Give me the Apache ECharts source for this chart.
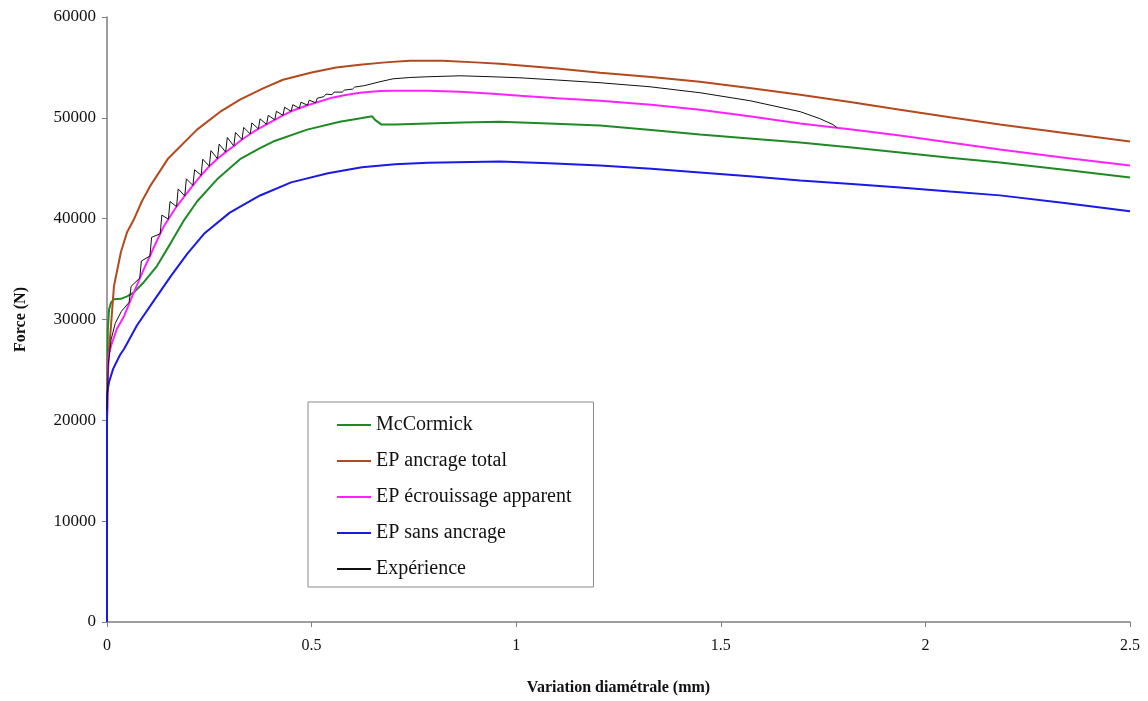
<!DOCTYPE html>
<html>
<head>
<meta charset="utf-8">
<script src="https://cdn.jsdelivr.net/npm/echarts@6/dist/echarts.min.js"></script>
<style>
html,body{margin:0;padding:0;background:#fff;}
#chart{width:1148px;height:701px;}
</style>
</head>
<body>
<div id="chart"></div>
<script>
const seriesNames = ["McCormick", "EP ancrage total", "EP écrouissage apparent", "EP sans ancrage", "Expérience"];

const mcCormick = [[0,20000],[0.002,29000],[0.005,31000],[0.01,31700],[0.017,32000],[0.034,32050],[0.049,32300],[0.066,32700],[0.09,33700],[0.122,35300],[0.156,37600],[0.186,39700],[0.22,41700],[0.269,43900],[0.325,45900],[0.374,47000],[0.406,47650],[0.489,48830],[0.569,49620],[0.62,49950],[0.648,50150],[0.655,49800],[0.67,49350],[0.704,49330],[0.784,49430],[0.868,49530],[0.96,49600],[1.08,49450],[1.205,49230],[1.33,48800],[1.449,48340],[1.57,47950],[1.694,47550],[1.82,47050],[1.938,46560],[2.06,46050],[2.182,45570],[2.34,44850],[2.5,44090]];

const ancrageTotal = [[0,20000],[0.003,26000],[0.01,29500],[0.017,33300],[0.034,36700],[0.049,38650],[0.066,39950],[0.085,41700],[0.105,43200],[0.15,46000],[0.22,48830],[0.28,50700],[0.325,51800],[0.38,52900],[0.43,53780],[0.5,54500],[0.56,55000],[0.618,55260],[0.68,55500],[0.74,55650],[0.82,55650],[0.9,55500],[0.96,55360],[1.1,54900],[1.205,54470],[1.33,54050],[1.449,53580],[1.57,52950],[1.694,52290],[1.82,51550],[1.938,50810],[2.06,50050],[2.182,49330],[2.34,48500],[2.5,47650]];

const ecrouissage = [[0,20000],[0.003,25500],[0.005,26600],[0.01,27400],[0.024,29060],[0.042,30350],[0.055,31650],[0.066,32720],[0.08,34050],[0.09,35000],[0.105,36300],[0.115,37200],[0.13,38500],[0.139,39240],[0.15,39950],[0.17,41200],[0.19,42250],[0.21,43300],[0.23,44300],[0.25,45200],[0.27,45950],[0.29,46600],[0.31,47200],[0.33,47850],[0.35,48400],[0.37,48900],[0.39,49350],[0.41,49800],[0.43,50250],[0.45,50650],[0.47,50950],[0.49,51250],[0.51,51500],[0.55,52000],[0.58,52250],[0.618,52490],[0.667,52650],[0.699,52690],[0.782,52690],[0.863,52590],[0.943,52390],[1.009,52200],[1.1,51950],[1.205,51700],[1.33,51300],[1.449,50810],[1.57,50150],[1.694,49430],[1.82,48850],[1.938,48240],[2.06,47550],[2.182,46850],[2.34,46050],[2.5,45270]];

const sansAncrage = [[0,0],[0,22600],[0.005,23800],[0.015,25100],[0.032,26500],[0.042,27100],[0.073,29400],[0.115,31900],[0.156,34300],[0.196,36500],[0.237,38500],[0.3,40600],[0.374,42300],[0.45,43600],[0.54,44500],[0.623,45100],[0.704,45400],[0.784,45550],[0.96,45670],[1.08,45500],[1.205,45270],[1.33,44950],[1.449,44580],[1.57,44200],[1.694,43790],[1.82,43450],[1.938,43100],[2.06,42700],[2.182,42310],[2.34,41550],[2.5,40730]];

const experience = [[0,21000],[0.003,25500],[0.01,28000],[0.02,29600],[0.035,30800],[0.054,31700],
[0.055,31700],[0.059,33300],[0.08,34100],[0.084,35800],[0.105,36300],[0.109,38150],[0.13,38500],[0.134,40350],
[0.15,39950],[0.154,41700],[0.17,41200],[0.174,42950],[0.19,42250],[0.194,43950],[0.21,43300],[0.214,44850],
[0.23,44300],[0.234,45900],[0.25,45200],[0.254,46750],[0.27,45950],[0.274,47400],[0.29,46600],[0.294,48050],
[0.31,47200],[0.314,48550],[0.33,47850],[0.334,49050],[0.35,48400],[0.354,49500],[0.37,48900],[0.374,49900],
[0.39,49350],[0.394,50250],[0.41,49800],[0.414,50650],[0.43,50250],[0.434,51050],[0.45,50650],[0.454,51300],
[0.47,50950],[0.474,51550],[0.49,51250],[0.494,51750],[0.51,51500],[0.514,51950],
[0.53,52100],[0.535,52350],[0.55,52300],[0.555,52550],[0.575,52550],[0.58,52750],[0.6,52850],[0.605,53050],
[0.63,53200],[0.667,53580],[0.699,53870],[0.74,54000],[0.782,54070],[0.863,54170],[0.943,54070],[1.009,53970],
[1.1,53750],[1.205,53480],[1.327,53080],[1.449,52490],[1.571,51700],[1.694,50610],[1.742,49920],[1.774,49330],[1.784,49030]];

const colors = ["#1f8a24", "#b4491e", "#ff22ff", "#1a1ae6", "#111111"];
const widths = [2, 2, 2, 2, 1];
const dataSets = [mcCormick, ancrageTotal, ecrouissage, sansAncrage, experience];

const xTicks = {min: 0, max: 2.5, interval: 0.5};
const yTicks = {min: 0, max: 60000, interval: 10000};

const FONT = "'Liberation Serif', 'DejaVu Serif', serif";

const chart = echarts.init(document.getElementById('chart'), null, {renderer: 'canvas'});
chart.setOption({
  backgroundColor: '#ffffff',
  animation: false,
  grid: {left: 107, right: 18, top: 17, bottom: 77, containLabel: false},
  legend: {
    orient: 'vertical',
    left: 308, top: 402,
    data: seriesNames.map((n, i) => ({name: n, icon: 'rect', itemStyle: {color: colors[i]}})),
    backgroundColor: '#ffffff',
    borderColor: '#8a8a8a',
    borderWidth: 1,
    borderRadius: 0,
    padding: [13, 22, 8, 29],
    itemWidth: 34,
    itemHeight: 2,
    itemGap: 16,
    textStyle: {fontFamily: FONT, fontSize: 20, color: '#111', lineHeight: 20}
  },
  xAxis: {
    type: 'value',
    min: xTicks.min, max: xTicks.max, interval: xTicks.interval,
    name: 'Variation diamétrale (mm)',
    nameLocation: 'middle', nameGap: 58,
    nameTextStyle: {fontFamily: FONT, fontSize: 16, fontWeight: 'bold', color: '#111'},
    axisLine: {lineStyle: {color: '#7f7f7f', width: 1.5}},
    axisTick: {show: true, inside: false, length: 5, lineStyle: {color: '#7f7f7f'}},
    axisLabel: {fontFamily: FONT, fontSize: 16, color: '#111', margin: 16},
    splitLine: {show: false}
  },
  yAxis: {
    type: 'value',
    min: yTicks.min, max: yTicks.max, interval: yTicks.interval,
    name: 'Force (N)',
    nameLocation: 'middle', nameGap: 78,
    nameTextStyle: {fontFamily: FONT, fontSize: 16, fontWeight: 'bold', color: '#111'},
    axisLine: {show: true, lineStyle: {color: '#7f7f7f', width: 1.5}},
    axisTick: {show: true, inside: false, length: 5, lineStyle: {color: '#7f7f7f'}},
    axisLabel: {fontFamily: FONT, fontSize: 17, color: '#111', margin: 11, formatter: v => String(v)},
    splitLine: {show: false}
  },
  series: seriesNames.map((n, i) => ({
    name: n,
    type: 'line',
    data: dataSets[i],
    symbol: 'none',
    smooth: false,
    clip: true,
    z: i === 4 ? 5 : 2,
    lineStyle: {color: colors[i], width: widths[i]},
    itemStyle: {color: colors[i]}
  }))
});
</script>
</body>
</html>
